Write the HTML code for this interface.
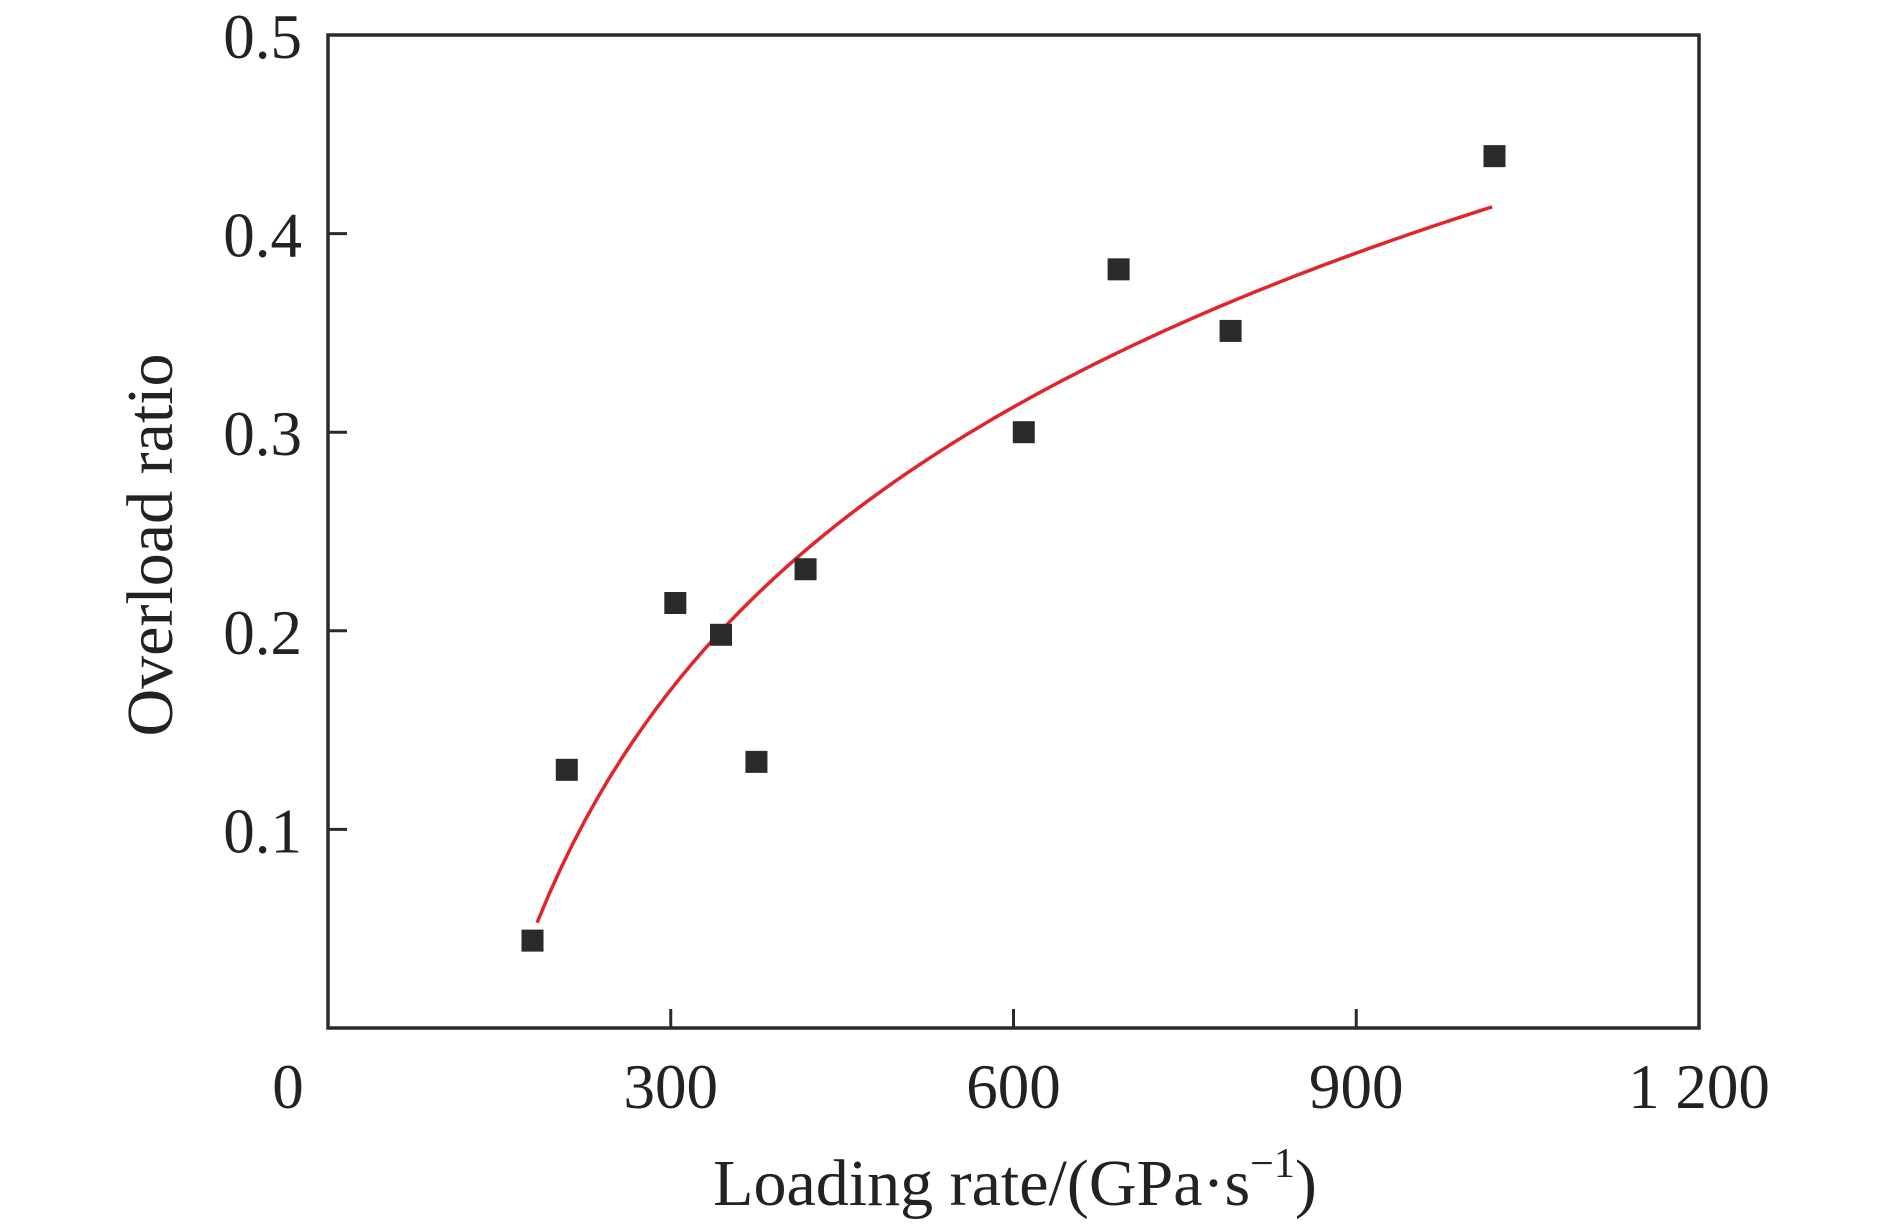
<!DOCTYPE html>
<html><head><meta charset="utf-8"><style>
html,body{margin:0;padding:0;background:#fff;}
svg{display:block;}
text{font-family:"Liberation Serif",serif;fill:#222;}
</style></head><body>
<svg id="chart" width="1890" height="1226" viewBox="0 0 1890 1226" xmlns="http://www.w3.org/2000/svg">
<g id="axes"></g>
<g id="fit"></g>
<g id="pts"></g>
<text x="1015" y="1205" font-size="66" text-anchor="middle">Loading rate/(GPa·s<tspan font-size="42" dy="-28">−1</tspan><tspan dy="28">)</tspan></text>
<text transform="translate(172,545) rotate(-90)" font-size="66" text-anchor="middle">Overload ratio</text>
</svg>
<script>
const xTicks=[0,300,600,900,1200];
const xTickLabels=["0","300","600","900","1 200"];
const yTicks=[0.1,0.2,0.3,0.4,0.5];
const yTickLabels=["0.1","0.2","0.3","0.4","0.5"];
const rateX=[179,209,304,344,375,418,609,692,790,1021];
const ratioY=[0.044,0.130,0.214,0.198,0.134,0.231,0.300,0.382,0.351,0.439];
// fitted curve y = a*ln(x - c) + b
const fitCoef=[0.1755,-0.7915,60];
const fitRange=[183,1019];

const L=328,R=1699,T=35,B=1028;
const sx=v=>L+(v/1200)*(R-L);
const sy=v=>B-(v/0.5)*(B-T);
const NS="http://www.w3.org/2000/svg";
function mk(tag,attrs,parent){const e=document.createElementNS(NS,tag);for(const k in attrs)e.setAttribute(k,attrs[k]);parent.appendChild(e);return e;}
const ax=document.getElementById('axes');
const frame=mk('rect',{x:L,y:T,width:R-L,height:B-T,fill:'none',stroke:'#2a2a2a','stroke-width':3.5},ax);


xTicks.forEach((v,i)=>{
  if(v>0&&v<1200){const t=mk('line',{x1:sx(v),x2:sx(v),y1:B,y2:B-19,stroke:'#2a2a2a','stroke-width':3},ax);
  
  }
  const lx = v===0 ? 288 : sx(v);
  const tx=mk('text',{x:lx,y:1108,'font-size':63,'text-anchor':'middle'},ax);
  tx.textContent=xTickLabels[i];
  
  
});
yTicks.forEach((v,i)=>{
  if(v<0.5){const t=mk('line',{x1:L,x2:L+19,y1:sy(v),y2:sy(v),stroke:'#2a2a2a','stroke-width':3},ax);
  
  }
  const tx=mk('text',{x:302,y:sy(v)+23,'font-size':63,'text-anchor':'end'},ax);
  tx.textContent=yTickLabels[i];
  
  
});
let d='';
const N=80;
for(let k=0;k<=N;k++){
  const x=fitRange[0]+(fitRange[1]-fitRange[0])*k/N;
  const y=fitCoef[0]*Math.log(x-fitCoef[2])+fitCoef[1];
  d+=(k?' L':'M')+sx(x).toFixed(2)+','+sy(y).toFixed(2);
}
const fit=mk('path',{d:d,fill:'none',stroke:'#e0262b','stroke-width':3.5},document.getElementById('fit'));


const pg=document.getElementById('pts');
rateX.forEach((x,i)=>{
  const r=mk('rect',{x:sx(x)-11,y:sy(ratioY[i])-11,width:22,height:22,fill:'#2a2a2a'},pg);
  
  
});
</script>
</body></html>
